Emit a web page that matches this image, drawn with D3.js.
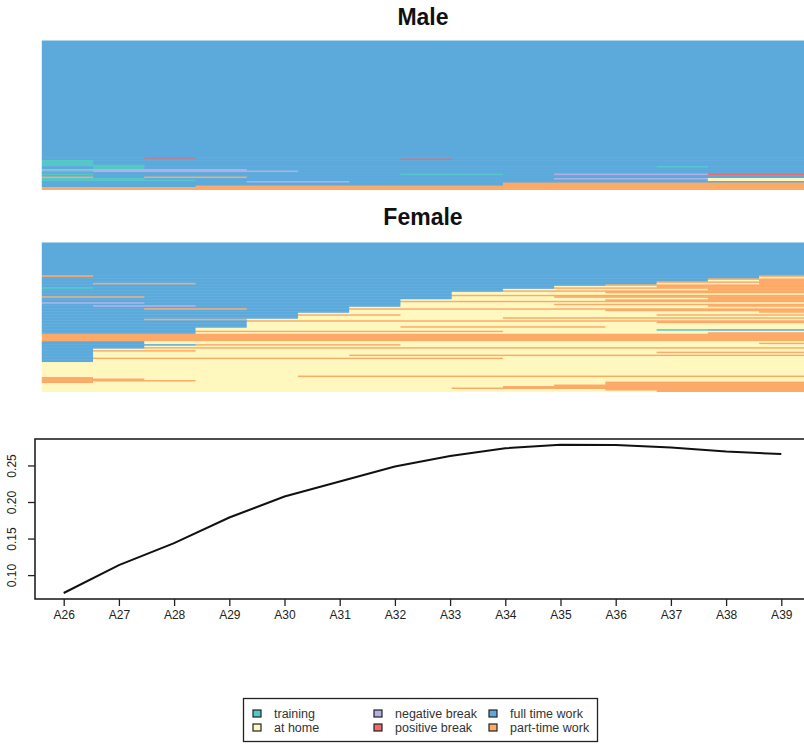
<!DOCTYPE html>
<html>
<head>
<meta charset="utf-8">
<script src="https://cdn.jsdelivr.net/npm/d3@7"></script>
<style>
  body { margin: 0; background: #fff; }
  svg { display: block; font-family: "Liberation Sans", Arial, sans-serif; }
</style>
</head>
<body>
<div id="chart-container"></div>
<script>
// states: T training, H at home, N negative break, B positive break, F full time, P part-time
var stateCodes = ["T", "H", "N", "B", "F", "P"];
var stateLabels = ["training", "at home", "negative break", "positive break", "full time work", "part-time work"];
var stateColors = ["#52C8C8", "#FFF8BE", "#B0B0E6", "#EF6A6A", "#5CAADC", "#FDAA68"];

var seqTimes = ["A25", "A26", "A27", "A28", "A29", "A30", "A31", "A32", "A33", "A34", "A35", "A36", "A37", "A38", "A39"];

// [count, sequence]
var maleSeqs = [
    [78, "FFFFFFFFFFFFFFF"],
    [1, "FFBFFFFFFFFFFFF"],
    [1, "FFFFFFFBFFFFFFF"],
    [3, "TFFFFFFFFFFFFFF"],
    [1, "TTFFFFFFFFFFFFF"],
    [1, "FTFFFFFFFFFFTFF"],
    [1, "FTFFFFFFFFFFFFF"],
    [1, "NNNNFFFFFFFFFFF"],
    [1, "TNNNNFFFFFFFFFF"],
    [1, "FFFFFFFFFFFFFFF"],
    [1, "TFFFFFFTTFNNNBB"],
    [1, "FFFFFFFFFFFFFFF"],
    [1, "PFPPFFFFFFFFFFF"],
    [1, "TTFFFFFFFFNNNHH"],
    [1, "TTTFFFFFFFFFFHH"],
    [1, "FFFFNNFFFFFFFFF"],
    [2, "FFFFFFFFFPPPPPP"],
    [1, "FFFPPPPPPPPPPPP"],
    [2, "PPPPPPPPPPPPPPP"]
];

var femaleSeqs = [
    [22, "FFFFFFFFFFFFFFF"],
    [1, "PFFFFFFFFFFFFFP"],
    [1, "FFFFFFFFFFFFFFH"],
    [1, "FFFFFFFFFFFFFPP"],
    [1, "FFFFFFFFFFFFFHP"],
    [1, "FFFFFFFFFFFFPPP"],
    [1, "FPPFFFFFFFFFHHP"],
    [1, "FFFFFFFFFFFPPPP"],
    [1, "FFFFFFFFFFHHPPP"],
    [1, "TFFFFFFFFFPPPPP"],
    [1, "FFFFFFFFFHHHHPP"],
    [1, "FFFFFFFFFPPPPPP"],
    [1, "FFFFFFFFHHHPPPP"],
    [1, "FFFFFFFFHHHHHHH"],
    [1, "FFFFFFFFPPPPPPP"],
    [1, "PPFFFFFFHHPPPPP"],
    [1, "FFFFFFFFHHHHHPP"],
    [1, "FFFFFFFHHHHPPPP"],
    [1, "FFFFFFFPPPPPPPP"],
    [1, "NNFFFFFHHHHHHHH"],
    [1, "FFFFFFFHHHPPPPP"],
    [1, "FNNFFFFHHHHHHPP"],
    [1, "FFFFFFHHHHHHHHH"],
    [1, "FFPPFFPPPPPPPPP"],
    [1, "FFFFFFHHHHHPPPP"],
    [1, "FFFFFFHHHHHHHHP"],
    [1, "FFFFFHHHHHHHHHH"],
    [1, "FFFFFPPHHHHHPPP"],
    [1, "FFFFFHHHHHHHHHH"],
    [1, "FFFFFHHHHPPPPPP"],
    [1, "FFPPHHHHHHHHHHH"],
    [1, "FFFFPPPPPPPPPPP"],
    [1, "FFFFHHHHHHHHPPP"],
    [2, "FFFFHHHHHHHHHHH"],
    [1, "FFFFHHHPPPPHHHH"],
    [1, "FFFHHHHHHHHHHHH"],
    [1, "FFFHHHHHHHHHTFF"],
    [1, "FFFPPPPPPHHHHHH"],
    [1, "FFFHHHHHHHHHHPP"],
    [5, "PPPPPPPPPPPPPPP"],
    [1, "FFHHHHHHHHHHHHH"],
    [1, "FFHHHHHHHHHHHHP"],
    [1, "FFFPPPPHHHHHHHH"],
    [1, "FFHHHHHHHHHHHHH"],
    [1, "FFPPPPPPPPPPPPP"],
    [1, "FHHHHHHHHHHHHHH"],
    [1, "FPPHHHHHHHHHHHH"],
    [1, "FHHHHHHHHHHHPPP"],
    [1, "FHHHHHHHHHHHHHH"],
    [1, "FHHHHHPPPPPPPPP"],
    [1, "FHHHHHHHHHHHHHH"],
    [1, "FPPPPPPPPHHHHHH"],
    [2, "FHHHHHHHHHHHHHH"],
    [9, "HHHHHHHHHHHHHHH"],
    [1, "HHHHHPPPPPPPPPP"],
    [1, "PHHHHHHHHHHHHHH"],
    [1, "PPHHHHHHHHHHHHH"],
    [1, "PPPHHHHHHHHHHHH"],
    [1, "PHHHHHHHHHHPPPP"],
    [1, "HHHHHHHHHHHPPPP"],
    [1, "HHHHHHHHHHPPPPP"],
    [1, "HHHHHHHHHPPPPPP"],
    [1, "HHHHHHHHPPPPPPP"],
    [1, "HHHHHHHHHHHPPPP"],
    [1, "HHHHHHHHHHHHPPP"]
];

var lineAges = ["A26", "A27", "A28", "A29", "A30", "A31", "A32", "A33", "A34", "A35", "A36", "A37", "A38", "A39"];
var lineValues = [0.0755, 0.1136, 0.1438, 0.1788, 0.2076, 0.2280, 0.2485, 0.2630, 0.2735, 0.2785, 0.2780, 0.2745, 0.2690, 0.2656];
var yTicks = [0.10, 0.15, 0.20, 0.25];

var width = 804, height = 744;

var svg = d3.select("#chart-container").append("svg")
    .attr("width", width)
    .attr("height", height);

svg.append("rect").attr("width", width).attr("height", height).attr("fill", "#fff");

var colorOf = d3.scaleOrdinal().domain(stateCodes).range(stateColors);

var seqX = d3.scaleBand()
    .domain(seqTimes)
    .range([41.8, 810.3])
    .padding(0);

function drawSeqPanel(title, seqs, top, bottom, titleY) {
    var total = d3.sum(seqs, d => d[0]);
    var y = d3.scaleLinear().domain([0, total]).range([top, bottom]);

    // one rect per run of equal states inside each group of identical sequences
    var cells = [];
    var start = 0;
    seqs.forEach(function (d) {
        var s = d[1].split("");
        var j = 0;
        while (j < s.length) {
            var k = j;
            while (k + 1 < s.length && s[k + 1] === s[j]) k++;
            cells.push({ state: s[j], t0: seqTimes[j], t1: seqTimes[k], r0: start, r1: start + d[0] });
            j = k + 1;
        }
        start += d[0];
    });

    svg.append("g").attr("class", "seq-panel")
        .selectAll("rect")
        .data(cells).enter().append("rect")
        .attr("x", d => seqX(d.t0))
        .attr("y", d => y(d.r0))
        .attr("width", d => seqX(d.t1) + seqX.bandwidth() - seqX(d.t0) + 0.5)
        .attr("height", d => Math.min(y(d.r1) - y(d.r0) + 0.5, bottom - y(d.r0)))
        .attr("fill", d => colorOf(d.state));

    svg.append("text")
        .attr("x", 423)
        .attr("y", titleY)
        .attr("text-anchor", "middle")
        .attr("font-weight", "bold")
        .attr("font-size", "23px")
        .attr("fill", "#111")
        .text(title);
}

drawSeqPanel("Male", maleSeqs, 40.5, 190, 25);
drawSeqPanel("Female", femaleSeqs, 242.5, 392, 225);

// line chart
var lx = d3.scalePoint()
    .domain(lineAges)
    .range([35, 810])
    .padding(0.52);

var ly = d3.scaleLinear()
    .domain([0.0673, 0.2862])
    .range([599, 439]);

var line = d3.line()
    .x((d, i) => lx(lineAges[i]))
    .y(d => ly(d));

svg.append("path")
    .datum(lineValues)
    .attr("d", line)
    .attr("fill", "none")
    .attr("stroke", "#111")
    .attr("stroke-width", 2);

svg.append("rect")
    .attr("x", 35)
    .attr("y", 439)
    .attr("width", 810 - 35)
    .attr("height", 599 - 439)
    .attr("fill", "none")
    .attr("stroke", "#222")
    .attr("stroke-width", 1.6);

var xAxis = d3.axisBottom(lx).tickSize(7).tickPadding(4);
var gX = svg.append("g")
    .attr("class", "axis axis--x")
    .attr("transform", "translate(0,599)")
    .call(xAxis);
gX.select(".domain").remove();
gX.selectAll("line").attr("stroke", "#222").attr("stroke-width", 1.3);
gX.selectAll("text")
    .attr("font-size", "12px")
    .attr("font-family", "Liberation Sans, Arial, sans-serif")
    .attr("fill", "#222");

var yAxis = d3.axisLeft(ly).tickValues(yTicks).tickSize(7).tickFormat(d3.format(".2f"));
var gY = svg.append("g")
    .attr("class", "axis axis--y")
    .attr("transform", "translate(35,0)")
    .call(yAxis);
gY.select(".domain").remove();
gY.selectAll("line").attr("stroke", "#222").attr("stroke-width", 1.3);
gY.selectAll("text")
    .attr("font-size", "12px")
    .attr("font-family", "Liberation Sans, Arial, sans-serif")
    .attr("fill", "#222")
    .attr("text-anchor", "middle")
    .attr("x", null)
    .attr("dy", null)
    .attr("transform", "translate(-19,0) rotate(-90)");

// legend
var legend = svg.append("g").attr("class", "legend");
legend.append("rect")
    .attr("x", 243.5)
    .attr("y", 698.5)
    .attr("width", 354)
    .attr("height", 43)
    .attr("fill", "#fff")
    .attr("stroke", "#222")
    .attr("stroke-width", 1.3);

var legCols = [253, 374, 489];
var legRows = [710, 724];
var items = legend.selectAll("g.item")
    .data(stateCodes).enter().append("g")
    .attr("class", "item")
    .attr("transform", (d, i) => "translate(" + legCols[Math.floor(i / 2)] + "," + legRows[i % 2] + ")");
items.append("rect")
    .attr("width", 8)
    .attr("height", 7)
    .attr("fill", d => colorOf(d))
    .attr("stroke", "#222")
    .attr("stroke-width", 1.2);
items.append("text")
    .attr("x", 21)
    .attr("y", 7.5)
    .attr("font-size", "12.5px")
    .attr("fill", "#333")
    .text((d, i) => stateLabels[i]);
</script>
</body>
</html>
